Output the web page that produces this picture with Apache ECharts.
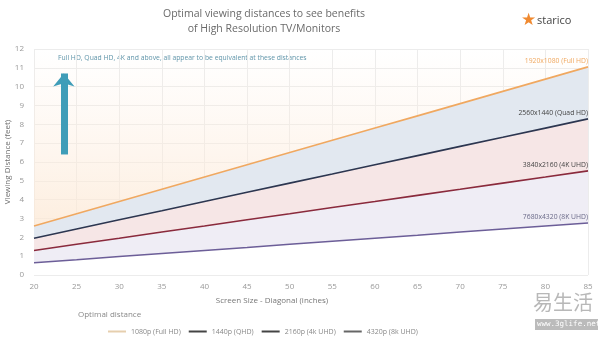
<!DOCTYPE html>
<html><head><meta charset="utf-8">
<script src="https://cdn.jsdelivr.net/npm/echarts@6/dist/echarts.min.js"></script>
<style>html,body{margin:0;padding:0;background:#fff}#c{width:600px;height:341px}</style>
</head><body><div id="c"></div>
<script>
const sizes = [20,25,30,35,40,45,50,55,60,65,70,75,80,85];
const fullHD = [2.6,3.25,3.9,4.55,5.2,5.85,6.5,7.15,7.8,8.45,9.1,9.75,10.4,11.05];
const quadHD = [1.95,2.44,2.93,3.41,3.9,4.39,4.88,5.36,5.85,6.34,6.83,7.31,7.8,8.29];
const uhd4k = [1.3,1.63,1.95,2.28,2.6,2.93,3.25,3.58,3.9,4.23,4.55,4.88,5.2,5.53];
const uhd8k = [0.65,0.81,0.98,1.14,1.3,1.46,1.63,1.79,1.95,2.11,2.28,2.44,2.6,2.76];
const legendNames = ['1080p (Full HD)','1440p (QHD)','2160p (4k UHD)','4320p (8k UHD)'];
const endLabels = ['1920x1080 (Full HD)','2560x1440 (Quad HD)','3840x2160 (4K UHD)','7680x4320 (8K UHD)'];
const yTicks = [0,1,2,3,4,5,6,7,8,9,10,11,12];
const arrowFrom = [23.5, 6.4], arrowTo = [23.5, 10.7];

const pairs = arr => sizes.map((x,i)=>[x,arr[i]]);
const lineColors = ['#f0a860','#2c3650','#8a2a3c','#6c5e98'];
const legendColors = ['#e6cfae','#444','#444','#666'];
const labelColors = ['#f0a860','#444','#444','#6a6a88'];
const font = 'Open Sans';

function fill(arr, color, origin){
  return {type:'line', data:pairs(arr), symbol:'none', silent:true,
    lineStyle:{width:0}, areaStyle:{color:color, opacity:1, origin:origin||'start'}, z:1};
}
const series = [
  fill(fullHD, {type:'linear',x:0,y:0,x2:0,y2:1,colorStops:[{offset:0,color:'rgba(253,238,224,0)'},{offset:0.5,color:'rgba(253,236,220,0.4)'},{offset:1,color:'rgba(252,232,212,0.75)'}]}, 'end'),
  fill(fullHD, '#e2e8f0'),
  fill(quadHD, '#f6e6e6'),
  fill(uhd4k, '#efedf5'),
  fill(uhd8k, '#ffffff'),
];
[fullHD,quadHD,uhd4k,uhd8k].forEach((arr,k)=>{
  const d = pairs(arr).map((p,i)=> i===sizes.length-1 ? {value:p, label:{show:true}} : {value:p});
  series.push({type:'line', name:legendNames[k], data:d, symbol:'circle', symbolSize:0.01, showAllSymbol:true, z:3,
    lineStyle:{width:1.6, color:lineColors[k]}, itemStyle:{color:legendColors[k]},
    label:{show:false, formatter:endLabels[k], position:'top', align:'right', distance:2,
      fontSize:6.8, fontFamily:font, color:labelColors[k]},
    markLine: k===0 ? {silent:true, symbol:['none','arrow'], symbolSize:[16,13],
      lineStyle:{color:'#3f9db8', width:7, type:'solid'}, label:{show:false},
      data:[[{coord:arrowFrom},{coord:arrowTo}]]} : undefined
  });
});

const chart = echarts.init(document.getElementById('c'));
chart.setOption({
  animation:false,
  backgroundColor:'#fff',
  grid:{left:34,right:12,top:49,bottom:66,containLabel:false,outerBoundsMode:'none'},
  title:{text:'Optimal viewing distances to see benefits\nof High Resolution TV/Monitors', left:259, textAlign:'center', top:1,
    textStyle:{fontSize:10.5, fontWeight:'normal', color:'#6a6a6a', fontFamily:font, lineHeight:15.5}},
  legend:{data:legendNames, bottom:1, left:103, itemWidth:18, itemHeight:2, itemGap:8, icon:'rect',
    textStyle:{fontSize:7, color:'#888', fontFamily:font}},
  xAxis:{type:'value', min:20, max:85, interval:5, name:'Screen Size - Diagonal (inches)', nameLocation:'middle', nameGap:22, nameMoveOverlap:false,
    nameTextStyle:{fontSize:8, color:'#777', fontFamily:font, padding:[0,78,0,0]},
    axisLine:{show:false}, axisTick:{show:false},
    axisLabel:{fontSize:8, color:'#999', fontFamily:font, margin:8},
    splitLine:{lineStyle:{color:'#ececec'}}},
  yAxis:{type:'value', min:0, max:12, interval:1, name:'Viewing Distance (feet)', nameLocation:'middle', nameGap:22, nameMoveOverlap:false,
    nameTextStyle:{fontSize:8, color:'#6e6e6e', fontFamily:font},
    axisLine:{show:false}, axisTick:{show:false},
    axisLabel:{fontSize:8, color:'#999', fontFamily:font, margin:10, formatter:v=>yTicks.includes(v)?String(v):''},
    splitLine:{lineStyle:{color:'#ececec'}}},
  graphic:[
    {type:'text', left:58, top:55, style:{text:'Full HD, Quad HD, 4K and above, all appear to be equivalent at these distances', fontSize:6.8, fill:'#5a92a8', fontFamily:font}},
    {type:'text', left:78, top:311, style:{text:'Optimal distance', fontSize:8, fill:'#888', fontFamily:font}},
    {type:'text', left:521, top:12, style:{text:'★', fontSize:17, fill:'#f08a30', fontFamily:'DejaVu Sans'}},
    {type:'text', left:537, top:15, style:{text:'starico', fontSize:11, fill:'#444', fontFamily:font}},
    {type:'text', left:533, top:292, style:{text:'易生活', fontSize:20, fill:'#b8b8b8', fontFamily:'Noto Sans CJK SC'}},
    {type:'rect', left:535, top:319, shape:{width:63, height:11}, style:{fill:'#bbbbbb'}},
    {type:'text', left:537, top:320, style:{text:'www.3glife.net', fontSize:7.5, fill:'#fff', fontFamily:'DejaVu Sans Mono'}}
  ],
  series:series
});
</script></body></html>
